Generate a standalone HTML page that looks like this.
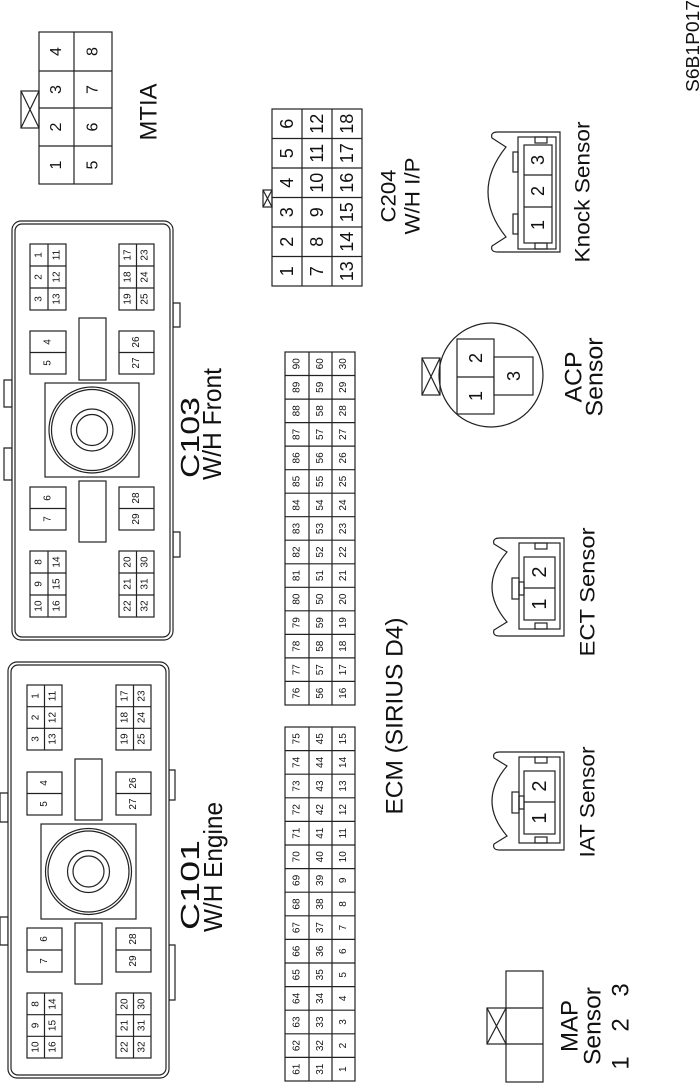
<!DOCTYPE html>
<html><head><meta charset="utf-8">
<style>
html,body{margin:0;padding:0;background:#fff;}
svg{display:block;}
text{font-family:"Liberation Sans",Arial,sans-serif;fill:#111;text-anchor:middle;dominant-baseline:central;}
.p{font-size:10px;}
.m{font-size:16px;}
.b{font-size:18px;}
.bb{font-size:20px;}
.l{font-size:24px;}
.t{font-size:26px;}
.s{font-size:21px;}
</style></head><body>
<svg width="700" height="1083" viewBox="0 0 700 1083" xmlns="http://www.w3.org/2000/svg">
<g fill="none" stroke="#222" stroke-width="1.2">
<rect x="39" y="32" width="73" height="152"/>
<line x1="74" y1="32" x2="74" y2="184"/>
<line x1="39" y1="71" x2="112" y2="71"/><line x1="39" y1="108" x2="112" y2="108"/><line x1="39" y1="146" x2="112" y2="146"/>
<rect x="21" y="91" width="18" height="37"/><line x1="21" y1="91" x2="39" y2="128"/><line x1="39" y1="91" x2="21" y2="128"/>
<rect x="272" y="109" width="90" height="177"/>
<line x1="302" y1="109" x2="302" y2="286"/><line x1="332" y1="109" x2="332" y2="286"/>
<line x1="272" y1="138.5" x2="362" y2="138.5"/><line x1="272" y1="168" x2="362" y2="168"/><line x1="272" y1="197.5" x2="362" y2="197.5"/><line x1="272" y1="227" x2="362" y2="227"/><line x1="272" y1="256.5" x2="362" y2="256.5"/>
<rect x="263" y="190" width="9" height="17"/><line x1="263" y1="190" x2="272" y2="207"/><line x1="272" y1="190" x2="263" y2="207"/>
<path d="M560 132 H498 Q490 132 492 138 L506 147 Q470 192 506 237 L492 246 Q490 252 498 252 H560 Z"/>
<rect x="518" y="137" width="38" height="112"/>
<rect x="524" y="145" width="28" height="98"/>
<line x1="524" y1="175" x2="552" y2="175"/><line x1="524" y1="207" x2="552" y2="207"/>
<rect x="513" y="152" width="5" height="20"/><rect x="513" y="214" width="5" height="20"/>
<rect x="535" y="137" width="12" height="6"/><rect x="535" y="243" width="12" height="6"/>
<circle cx="491" cy="375" r="52" fill="#fff"/>
<rect x="457" y="339" width="37" height="75" fill="#fff"/><line x1="457" y1="377" x2="494" y2="377"/>
<rect x="494" y="357" width="39" height="38" fill="#fff"/>
<rect x="422" y="358" width="18" height="37"/><line x1="422" y1="358" x2="440" y2="395"/><line x1="440" y1="358" x2="422" y2="395"/>
<path d="M564 538 H500 Q492 538 494 544 L507 552 Q477 587 507 622 L494 630 Q492 636 500 636 H564 Z"/>
<rect x="519" y="543" width="41" height="86"/>
<rect x="524" y="557" width="31" height="63"/><line x1="524" y1="588" x2="555" y2="588"/>
<rect x="512" y="578" width="7" height="21"/><rect x="519" y="582" width="5" height="13"/>
<rect x="535" y="543" width="12" height="6"/><rect x="535" y="623" width="12" height="6"/>
<path d="M564 752 H500 Q492 752 494 758 L507 766 Q477 801 507 836 L494 844 Q492 850 500 850 H564 Z"/>
<rect x="519" y="757" width="41" height="86"/>
<rect x="524" y="771" width="31" height="63"/><line x1="524" y1="802" x2="555" y2="802"/>
<rect x="512" y="792" width="7" height="21"/><rect x="519" y="796" width="5" height="13"/>
<rect x="535" y="757" width="12" height="6"/><rect x="535" y="837" width="12" height="6"/>
<rect x="506" y="971" width="37" height="111"/>
<line x1="506" y1="1008" x2="543" y2="1008"/><line x1="506" y1="1044" x2="543" y2="1044"/>
<rect x="487" y="1008" width="19" height="36"/><line x1="487" y1="1008" x2="506" y2="1044"/><line x1="506" y1="1008" x2="487" y2="1044"/>
<rect x="285" y="352" width="70" height="353"/>
<line x1="309" y1="352" x2="309" y2="705"/><line x1="332" y1="352" x2="332" y2="705"/>
<path d="M285 375.5H355M285 399.1H355M285 422.6H355M285 446.1H355M285 469.7H355M285 493.2H355M285 516.7H355M285 540.2H355M285 563.8H355M285 587.3H355M285 610.8H355M285 634.4H355M285 657.9H355M285 681.4H355"/>
<rect x="285" y="727" width="70" height="354"/>
<line x1="309" y1="727" x2="309" y2="1081"/><line x1="332" y1="727" x2="332" y2="1081"/>
<path d="M285 750.6H355M285 774.2H355M285 797.8H355M285 821.4H355M285 845H355M285 868.6H355M285 892.2H355M285 915.8H355M285 939.4H355M285 963H355M285 986.6H355M285 1010.2H355M285 1033.8H355M285 1057.4H355"/>

<path d="M4 380H12V407H4Z M4 448H12V480H4Z M173 303H180V327H173Z M173 532H180V557H173Z" fill="#fff"/>
<rect x="12" y="221" width="161" height="419" rx="9" fill="#fff"/>
<rect x="15" y="224" width="155" height="413" rx="7"/>
<rect x="30" y="244" width="36" height="66"/><line x1="48" y1="244" x2="48" y2="310"/><line x1="30" y1="266" x2="66" y2="266"/><line x1="30" y1="288" x2="66" y2="288"/>
<rect x="119" y="244" width="35" height="66"/><line x1="136.5" y1="244" x2="136.5" y2="310"/><line x1="119" y1="266" x2="154" y2="266"/><line x1="119" y1="288" x2="154" y2="288"/>
<rect x="30" y="331" width="36" height="43"/><line x1="30" y1="352.5" x2="66" y2="352.5"/>
<rect x="119" y="331" width="35" height="43"/><line x1="119" y1="352.5" x2="154" y2="352.5"/>
<rect x="79" y="318" width="27" height="62"/>
<rect x="45" y="383" width="94" height="94"/>
<circle cx="92" cy="430" r="43"/><circle cx="92" cy="430" r="40.5"/><circle cx="92" cy="430" r="21"/><circle cx="92" cy="430" r="15.5"/>
<rect x="79" y="481" width="27" height="61"/>
<rect x="30" y="487" width="36" height="43"/><line x1="30" y1="508.5" x2="66" y2="508.5"/>
<rect x="119" y="487" width="35" height="43"/><line x1="119" y1="508.5" x2="154" y2="508.5"/>
<rect x="30" y="551" width="36" height="66"/><line x1="48" y1="551" x2="48" y2="617"/><line x1="30" y1="573" x2="66" y2="573"/><line x1="30" y1="595" x2="66" y2="595"/>
<rect x="119" y="551" width="35" height="66"/><line x1="136.5" y1="551" x2="136.5" y2="617"/><line x1="119" y1="573" x2="154" y2="573"/><line x1="119" y1="595" x2="154" y2="595"/>

<path d="M0 793H8V822H0Z M0 917H8V945H0Z M169 770H175V800H169Z M169 945H175V1000H169Z" fill="#fff"/>
<rect x="8" y="662" width="161" height="416" rx="9" fill="#fff"/>
<rect x="11" y="665" width="155" height="410" rx="7"/>
<rect x="27" y="685" width="35" height="65"/><line x1="44.5" y1="685" x2="44.5" y2="750"/><line x1="27" y1="706.7" x2="62" y2="706.7"/><line x1="27" y1="728.3" x2="62" y2="728.3"/>
<rect x="116" y="685" width="35" height="65"/><line x1="133.5" y1="685" x2="133.5" y2="750"/><line x1="116" y1="706.7" x2="151" y2="706.7"/><line x1="116" y1="728.3" x2="151" y2="728.3"/>
<rect x="27" y="772" width="35" height="43"/><line x1="27" y1="793.5" x2="62" y2="793.5"/>
<rect x="116" y="772" width="35" height="43"/><line x1="116" y1="793.5" x2="151" y2="793.5"/>
<rect x="75" y="759" width="27" height="61"/>
<rect x="41" y="824" width="95" height="95"/>
<circle cx="88.5" cy="871.5" r="43"/><circle cx="88.5" cy="871.5" r="40.5"/><circle cx="88.5" cy="871.5" r="21"/><circle cx="88.5" cy="871.5" r="15.5"/>
<rect x="75" y="923" width="27" height="61"/>
<rect x="27" y="928" width="35" height="44"/><line x1="27" y1="950" x2="62" y2="950"/>
<rect x="116" y="928" width="35" height="44"/><line x1="116" y1="950" x2="151" y2="950"/>
<rect x="27" y="993" width="35" height="65"/><line x1="44.5" y1="993" x2="44.5" y2="1058"/><line x1="27" y1="1014.7" x2="62" y2="1014.7"/><line x1="27" y1="1036.3" x2="62" y2="1036.3"/>
<rect x="116" y="993" width="35" height="65"/><line x1="133.5" y1="993" x2="133.5" y2="1058"/><line x1="116" y1="1014.7" x2="151" y2="1014.7"/><line x1="116" y1="1036.3" x2="151" y2="1036.3"/>
</g>

<g transform="rotate(-90)">
<text class="m" x="-51.5" y="56.5">4</text><text class="m" x="-51.5" y="93">8</text>
<text class="m" x="-89.5" y="56.5">3</text><text class="m" x="-89.5" y="93">7</text>
<text class="m" x="-127" y="56.5">2</text><text class="m" x="-127" y="93">6</text>
<text class="m" x="-165" y="56.5">1</text><text class="m" x="-165" y="93">5</text>
<text class="l" x="-112" y="149" textLength="57" lengthAdjust="spacingAndGlyphs">MTIA</text>
<text class="b" x="-123.75" y="287">6</text><text class="b" x="-123.75" y="317">12</text><text class="b" x="-123.75" y="347">18</text>
<text class="b" x="-153.25" y="287">5</text><text class="b" x="-153.25" y="317">11</text><text class="b" x="-153.25" y="347">17</text>
<text class="b" x="-182.75" y="287">4</text><text class="b" x="-182.75" y="317">10</text><text class="b" x="-182.75" y="347">16</text>
<text class="b" x="-212.25" y="287">3</text><text class="b" x="-212.25" y="317">9</text><text class="b" x="-212.25" y="347">15</text>
<text class="b" x="-241.75" y="287">2</text><text class="b" x="-241.75" y="317">8</text><text class="b" x="-241.75" y="347">14</text>
<text class="b" x="-271.25" y="287">1</text><text class="b" x="-271.25" y="317">7</text><text class="b" x="-271.25" y="347">13</text>
<text class="s" x="-196" y="389" textLength="53" lengthAdjust="spacingAndGlyphs">C204</text>
<text class="s" x="-196" y="413" textLength="77" lengthAdjust="spacingAndGlyphs">W/H I/P</text>
<text class="b" x="-160" y="538">3</text><text class="b" x="-191" y="538">2</text><text class="b" x="-225" y="538">1</text>
<text class="s" x="-192" y="583" textLength="141" lengthAdjust="spacingAndGlyphs">Knock Sensor</text>
<text style="font-size:18px" x="-46" y="693" textLength="92" lengthAdjust="spacingAndGlyphs">S6B1P017</text>
<text class="b" x="-358" y="476">2</text><text class="b" x="-396" y="476">1</text><text class="b" x="-376" y="514">3</text>
<text class="l" x="-377" y="574" textLength="51" lengthAdjust="spacingAndGlyphs">ACP</text>
<text class="l" x="-377" y="595" textLength="79" lengthAdjust="spacingAndGlyphs">Sensor</text>
<text class="bb" x="-572" y="540">2</text><text class="bb" x="-604" y="540">1</text>
<text class="s" x="-592" y="588" textLength="129" lengthAdjust="spacingAndGlyphs">ECT Sensor</text>
<text class="bb" x="-786" y="540">2</text><text class="bb" x="-818" y="540">1</text>
<text class="s" x="-802" y="588" textLength="111" lengthAdjust="spacingAndGlyphs">IAT Sensor</text>
<text class="l" x="-1026" y="570" textLength="52" lengthAdjust="spacingAndGlyphs">MAP</text>
<text class="l" x="-1026" y="593" textLength="78" lengthAdjust="spacingAndGlyphs">Sensor</text>
<text class="l" x="-1063" y="621">1</text><text class="l" x="-1025" y="621">2</text><text class="l" x="-990" y="621">3</text>
<text class="l" x="-716" y="395" textLength="197" lengthAdjust="spacingAndGlyphs">ECM (SIRIUS D4)</text>
<text class="t" style="text-anchor:start" x="-478" y="190" textLength="81" lengthAdjust="spacingAndGlyphs">C103</text>
<text class="t" style="text-anchor:start" x="-480" y="212" textLength="112" lengthAdjust="spacingAndGlyphs">W/H Front</text>
<text class="t" style="text-anchor:start" x="-930" y="190" textLength="90" lengthAdjust="spacingAndGlyphs">C101</text>
<text class="t" style="text-anchor:start" x="-932" y="213" textLength="130" lengthAdjust="spacingAndGlyphs">W/H Engine</text>

<g class="p">
<text x="-363.8" y="297">90</text><text x="-363.8" y="320.5">60</text><text x="-363.8" y="343.5">30</text>
<text x="-387.3" y="297">89</text><text x="-387.3" y="320.5">59</text><text x="-387.3" y="343.5">29</text>
<text x="-410.8" y="297">88</text><text x="-410.8" y="320.5">58</text><text x="-410.8" y="343.5">28</text>
<text x="-434.4" y="297">87</text><text x="-434.4" y="320.5">57</text><text x="-434.4" y="343.5">27</text>
<text x="-457.9" y="297">86</text><text x="-457.9" y="320.5">56</text><text x="-457.9" y="343.5">26</text>
<text x="-481.4" y="297">85</text><text x="-481.4" y="320.5">55</text><text x="-481.4" y="343.5">25</text>
<text x="-505" y="297">84</text><text x="-505" y="320.5">54</text><text x="-505" y="343.5">24</text>
<text x="-528.5" y="297">83</text><text x="-528.5" y="320.5">53</text><text x="-528.5" y="343.5">23</text>
<text x="-552" y="297">82</text><text x="-552" y="320.5">52</text><text x="-552" y="343.5">22</text>
<text x="-575.6" y="297">81</text><text x="-575.6" y="320.5">51</text><text x="-575.6" y="343.5">21</text>
<text x="-599.1" y="297">80</text><text x="-599.1" y="320.5">50</text><text x="-599.1" y="343.5">20</text>
<text x="-622.7" y="297">79</text><text x="-622.7" y="320.5">59</text><text x="-622.7" y="343.5">19</text>
<text x="-646.2" y="297">78</text><text x="-646.2" y="320.5">58</text><text x="-646.2" y="343.5">18</text>
<text x="-669.7" y="297">77</text><text x="-669.7" y="320.5">57</text><text x="-669.7" y="343.5">17</text>
<text x="-693.2" y="297">76</text><text x="-693.2" y="320.5">56</text><text x="-693.2" y="343.5">16</text>
<text x="-738.8" y="297">75</text><text x="-738.8" y="320.5">45</text><text x="-738.8" y="343.5">15</text>
<text x="-762.4" y="297">74</text><text x="-762.4" y="320.5">44</text><text x="-762.4" y="343.5">14</text>
<text x="-786" y="297">73</text><text x="-786" y="320.5">43</text><text x="-786" y="343.5">13</text>
<text x="-809.6" y="297">72</text><text x="-809.6" y="320.5">42</text><text x="-809.6" y="343.5">12</text>
<text x="-833.2" y="297">71</text><text x="-833.2" y="320.5">41</text><text x="-833.2" y="343.5">11</text>
<text x="-856.8" y="297">70</text><text x="-856.8" y="320.5">40</text><text x="-856.8" y="343.5">10</text>
<text x="-880.4" y="297">69</text><text x="-880.4" y="320.5">39</text><text x="-880.4" y="343.5">9</text>
<text x="-904" y="297">68</text><text x="-904" y="320.5">38</text><text x="-904" y="343.5">8</text>
<text x="-927.6" y="297">67</text><text x="-927.6" y="320.5">37</text><text x="-927.6" y="343.5">7</text>
<text x="-951.2" y="297">66</text><text x="-951.2" y="320.5">36</text><text x="-951.2" y="343.5">6</text>
<text x="-974.8" y="297">65</text><text x="-974.8" y="320.5">35</text><text x="-974.8" y="343.5">5</text>
<text x="-998.4" y="297">64</text><text x="-998.4" y="320.5">34</text><text x="-998.4" y="343.5">4</text>
<text x="-1022" y="297">63</text><text x="-1022" y="320.5">33</text><text x="-1022" y="343.5">3</text>
<text x="-1045.6" y="297">62</text><text x="-1045.6" y="320.5">32</text><text x="-1045.6" y="343.5">2</text>
<text x="-1069.2" y="297">61</text><text x="-1069.2" y="320.5">31</text><text x="-1069.2" y="343.5">1</text>

<text x="-255" y="39">1</text><text x="-277" y="39">2</text><text x="-299" y="39">3</text>
<text x="-255" y="57">11</text><text x="-277" y="57">12</text><text x="-299" y="57">13</text>
<text x="-255" y="128">17</text><text x="-277" y="128">18</text><text x="-299" y="128">19</text>
<text x="-255" y="145">23</text><text x="-277" y="145">24</text><text x="-299" y="145">25</text>
<text x="-342" y="48">4</text><text x="-363" y="48">5</text>
<text x="-342" y="136.5">26</text><text x="-363" y="136.5">27</text>
<text x="-498" y="48">6</text><text x="-519" y="48">7</text>
<text x="-498" y="136.5">28</text><text x="-519" y="136.5">29</text>
<text x="-562" y="39">8</text><text x="-584" y="39">9</text><text x="-606" y="39">10</text>
<text x="-562" y="57">14</text><text x="-584" y="57">15</text><text x="-606" y="57">16</text>
<text x="-562" y="128">20</text><text x="-584" y="128">21</text><text x="-606" y="128">22</text>
<text x="-562" y="145">30</text><text x="-584" y="145">31</text><text x="-606" y="145">32</text>
<text x="-696" y="36">1</text><text x="-717.5" y="36">2</text><text x="-739" y="36">3</text>
<text x="-696" y="53">11</text><text x="-717.5" y="53">12</text><text x="-739" y="53">13</text>
<text x="-696" y="125">17</text><text x="-717.5" y="125">18</text><text x="-739" y="125">19</text>
<text x="-696" y="142">23</text><text x="-717.5" y="142">24</text><text x="-739" y="142">25</text>
<text x="-783" y="44.5">4</text><text x="-804" y="44.5">5</text>
<text x="-783" y="133.5">26</text><text x="-804" y="133.5">27</text>
<text x="-939" y="44.5">6</text><text x="-961" y="44.5">7</text>
<text x="-939" y="133.5">28</text><text x="-961" y="133.5">29</text>
<text x="-1004" y="36">8</text><text x="-1025.5" y="36">9</text><text x="-1047" y="36">10</text>
<text x="-1004" y="53">14</text><text x="-1025.5" y="53">15</text><text x="-1047" y="53">16</text>
<text x="-1004" y="125">20</text><text x="-1025.5" y="125">21</text><text x="-1047" y="125">22</text>
<text x="-1004" y="142">30</text><text x="-1025.5" y="142">31</text><text x="-1047" y="142">32</text>
</g>
</g>
</svg>
</body></html>
